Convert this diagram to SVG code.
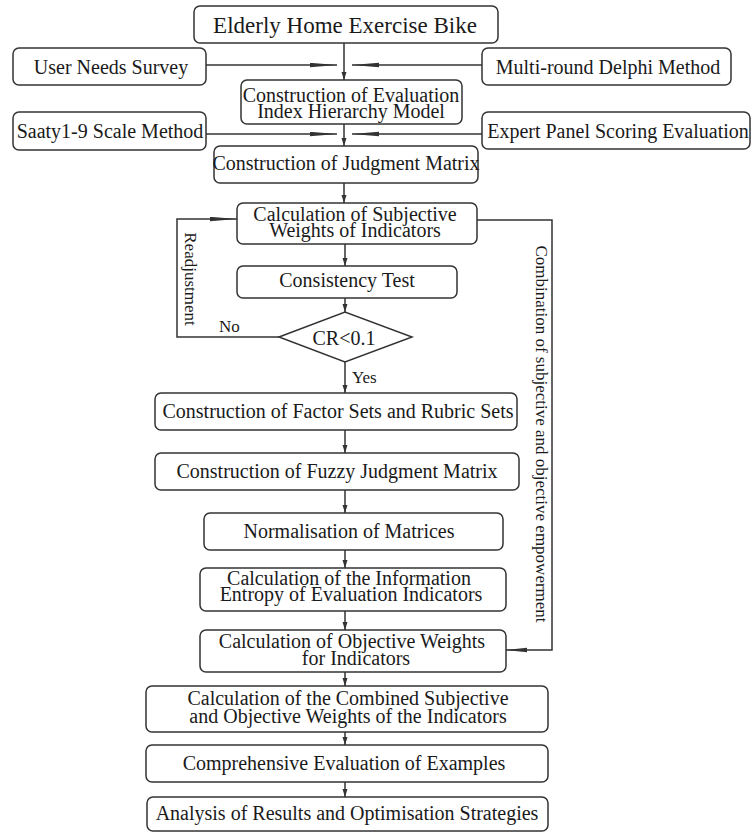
<svg xmlns="http://www.w3.org/2000/svg" width="752" height="832" viewBox="0 0 752 832">
<style>
.box{fill:#ffffff;stroke:#333333;stroke-width:1.5}
.t{font-family:"Liberation Serif","Times New Roman",serif;font-size:20px;fill:#1a1a1a;text-anchor:middle}
.title{font-size:23px}
.lbl{font-family:"Liberation Serif","Times New Roman",serif;font-size:17px;fill:#1a1a1a}
.ln{fill:none;stroke:#333333;stroke-width:1.5}
</style>
<defs>
<marker id="arrS" markerUnits="userSpaceOnUse" markerWidth="9" markerHeight="6" refX="8" refY="2.5" orient="auto"><path d="M0,0 L8,2.5 L0,5 z" fill="#333333"/></marker>
<marker id="arrL" markerUnits="userSpaceOnUse" markerWidth="28" markerHeight="6" refX="27" refY="2.5" orient="auto"><path d="M0,0.3 L27,2.5 L0,4.7 z" fill="#333333"/></marker>
<marker id="arrM" markerUnits="userSpaceOnUse" markerWidth="22" markerHeight="6" refX="21" refY="2.5" orient="auto"><path d="M0,0.3 L21,2.5 L0,4.7 z" fill="#333333"/></marker>
</defs>
<rect width="752" height="832" fill="#ffffff"/>
<g id="connectors">
<path class="ln" d="M344,43 V80" marker-end="url(#arrS)"/>
<path class="ln" d="M206,65 H337" marker-end="url(#arrL)"/>
<path class="ln" d="M482,65 H352" marker-end="url(#arrL)"/>
<path class="ln" d="M344,124 V146" marker-end="url(#arrS)"/>
<path class="ln" d="M206,134 H337" marker-end="url(#arrL)"/>
<path class="ln" d="M482,134 H352" marker-end="url(#arrL)"/>
<path class="ln" d="M344,183 V203" marker-end="url(#arrS)"/>
<path class="ln" d="M345,244 V266" marker-end="url(#arrS)"/>
<path class="ln" d="M345,298 V312" marker-end="url(#arrS)"/>
<path class="ln" d="M345,362 V393" marker-end="url(#arrS)"/>
<path class="ln" d="M345,430 V453" marker-end="url(#arrS)"/>
<path class="ln" d="M345,490 V513" marker-end="url(#arrS)"/>
<path class="ln" d="M345,550 V568" marker-end="url(#arrS)"/>
<path class="ln" d="M345,611 V630" marker-end="url(#arrS)"/>
<path class="ln" d="M345,672 V686" marker-end="url(#arrS)"/>
<path class="ln" d="M345,732 V745" marker-end="url(#arrS)"/>
<path class="ln" d="M345,782 V797" marker-end="url(#arrS)"/>
<path class="ln" d="M279,337 H177 V219 H237" marker-end="url(#arrL)"/>
<path class="ln" d="M477,220 H552 V650 H506" marker-end="url(#arrM)"/>
<text class="lbl" transform="translate(185,279) rotate(90)" text-anchor="middle">Readjustment</text>
<text class="lbl" x="219" y="332">No</text>
<text class="lbl" x="352" y="383">Yes</text>
<text class="lbl" transform="translate(536,434) rotate(90)" text-anchor="middle">Combination of subjective and objective empowerment</text>
</g>
<g id="n1"><rect class="box" x="194" y="6" width="304" height="37" rx="6"/><text class="t title" x="345" y="33">Elderly Home Exercise Bike</text></g>
<g id="n2"><rect class="box" x="13" y="48" width="193" height="37" rx="6"/><text class="t" x="111" y="74">User Needs Survey</text></g>
<g id="n3"><rect class="box" x="482" y="48" width="249" height="37" rx="6"/><text class="t" x="608" y="74">Multi-round Delphi Method</text></g>
<g id="n4"><rect class="box" x="241" y="80" width="221" height="44" rx="6"/><text class="t" x="351" y="102"><tspan x="351">Construction of Evaluation</tspan><tspan x="351" dy="16">Index Hierarchy Model</tspan></text></g>
<g id="n5"><rect class="box" x="13" y="112" width="193" height="38" rx="6"/><text class="t" x="110" y="138">Saaty1-9 Scale Method</text></g>
<g id="n6"><rect class="box" x="482" y="112" width="268" height="37" rx="6"/><text class="t" x="618" y="138">Expert Panel Scoring Evaluation</text></g>
<g id="n7"><rect class="box" x="214" y="146" width="264" height="37" rx="6"/><text class="t" x="346" y="170">Construction of Judgment Matrix</text></g>
<g id="n8"><rect class="box" x="237" y="203" width="240" height="41" rx="6"/><text class="t" x="355" y="221"><tspan x="355">Calculation of Subjective</tspan><tspan x="355" dy="16">Weights of Indicators</tspan></text></g>
<g id="n9"><rect class="box" x="237" y="266" width="220" height="32" rx="6"/><text class="t" x="347" y="287">Consistency Test</text></g>
<g id="n10"><polygon class="box" points="279,337 345,312 412,337 345,362"/><text class="t" x="344" y="345">CR&lt;0.1</text></g>
<g id="n11"><rect class="box" x="155" y="393" width="362" height="37" rx="6"/><text class="t" x="338" y="418">Construction of Factor Sets and Rubric Sets</text></g>
<g id="n12"><rect class="box" x="155" y="453" width="364" height="37" rx="6"/><text class="t" x="337" y="478">Construction of Fuzzy Judgment Matrix</text></g>
<g id="n13"><rect class="box" x="204" y="513" width="299" height="37" rx="6"/><text class="t" x="349" y="538">Normalisation of Matrices</text></g>
<g id="n14"><rect class="box" x="200" y="568" width="306" height="43" rx="6"/><text class="t" x="349" y="585"><tspan x="349">Calculation of the Information</tspan><tspan x="351" dy="16">Entropy of Evaluation Indicators</tspan></text></g>
<g id="n15"><rect class="box" x="200" y="630" width="306" height="42" rx="6"/><text class="t" x="352" y="648"><tspan x="352">Calculation of Objective Weights</tspan><tspan x="356" dy="17">for Indicators</tspan></text></g>
<g id="n16"><rect class="box" x="146" y="686" width="402" height="46" rx="6"/><text class="t" x="348" y="705"><tspan x="348">Calculation of the Combined Subjective</tspan><tspan x="348" dy="18">and Objective Weights of the Indicators</tspan></text></g>
<g id="n17"><rect class="box" x="146" y="745" width="402" height="37" rx="6"/><text class="t" x="344" y="770">Comprehensive Evaluation of Examples</text></g>
<g id="n18"><rect class="box" x="147" y="797" width="401" height="34" rx="6"/><text class="t" x="347" y="820">Analysis of Results and Optimisation Strategies</text></g>
</svg>
